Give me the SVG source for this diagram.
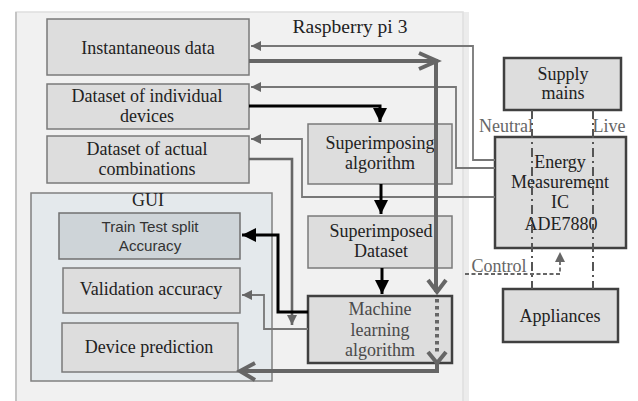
<svg xmlns="http://www.w3.org/2000/svg" width="638" height="401" viewBox="0 0 638 401">
  <style>
    .serif { font-family: "Liberation Serif", "Times New Roman", serif; fill: #222; text-anchor: middle; font-size: 18px; }
    .sans { font-family: "Liberation Sans", Arial, sans-serif; fill: #333; text-anchor: middle; font-size: 15.2px; }
    .soft { fill: #666; }
    .box { fill: #dddddd; stroke: #7a7a7a; stroke-width: 1.5; }
    .dark { fill: #dddddd; stroke: #404040; stroke-width: 2.5; }
    .thin { fill: none; stroke: #777; stroke-width: 1.8; }
    .mid { fill: none; stroke: #666; stroke-width: 2.6; }
    .black { fill: none; stroke: #000; stroke-width: 3; }
    .thick { fill: none; stroke: #666; stroke-width: 4; }
    .phase { fill: none; stroke: #555; stroke-width: 2; stroke-dasharray: 9 4 2 4; }
  </style>
  <defs>
    <marker id="arrGray" markerUnits="userSpaceOnUse" markerWidth="12" markerHeight="10" refX="10" refY="5" orient="auto">
      <path d="M0,0 L10,5 L0,10 Z" fill="#666"/>
    </marker>
    <marker id="arrBlack" markerUnits="userSpaceOnUse" markerWidth="16" markerHeight="16" refX="14" refY="8" orient="auto">
      <path d="M0,1 L14,8 L0,15 Z" fill="#000"/>
    </marker>
  </defs>

  <rect width="638" height="401" fill="#ffffff"/>

  <!-- Raspberry pi 3 enclosure -->
  <g id="raspberry-pi">
    <rect x="463" y="12" width="6" height="389" fill="#ececec"/>
    <rect x="16" y="12" width="447" height="395" fill="#f1f1f1" stroke="#dedede" stroke-width="1.5"/>
    <line x1="16" y1="12" x2="16" y2="401" stroke="#c4c4c4" stroke-width="2"/>
    <text class="serif" x="350" y="33" style="font-size:19.5px">Raspberry pi 3</text>
  </g>

  <!-- GUI panel -->
  <g id="gui">
    <rect x="31" y="193" width="241" height="188" fill="#e4e9ec" stroke="#808080" stroke-width="1.5"/>
    <text class="serif" x="148" y="206">GUI</text>
  </g>

  <g id="instantaneous-data">
    <rect class="box" x="47" y="19" width="202" height="56"/>
    <text class="serif" x="148" y="54">Instantaneous data</text>
  </g>

  <g id="dataset-individual">
    <rect class="box" x="47" y="84" width="202" height="45"/>
    <text class="serif" x="147" y="102">Dataset of individual</text>
    <text class="serif" x="147" y="122">devices</text>
  </g>

  <g id="dataset-combinations">
    <rect class="box" x="47" y="136" width="202" height="47"/>
    <text class="serif" x="147" y="155">Dataset of actual</text>
    <text class="serif" x="147" y="175">combinations</text>
  </g>

  <g id="train-test-split">
    <rect x="59" y="213" width="181" height="46" fill="#ced4d8" stroke="#707070" stroke-width="1.5"/>
    <text class="sans" x="150" y="232">Train Test split</text>
    <text class="sans" x="150" y="251">Accuracy</text>
  </g>

  <g id="validation-accuracy">
    <rect class="box" x="63" y="268" width="177" height="45"/>
    <text class="serif" x="151" y="295">Validation accuracy</text>
  </g>

  <g id="device-prediction">
    <rect class="box" x="62" y="323" width="176" height="49"/>
    <text class="serif" x="149" y="353">Device prediction</text>
  </g>

  <g id="superimposing-algorithm">
    <rect class="box" x="308" y="124" width="144" height="60"/>
    <text class="serif" x="380" y="149">Superimposing</text>
    <text class="serif" x="380" y="169">algorithm</text>
  </g>

  <g id="superimposed-dataset">
    <rect class="box" x="308" y="216" width="144" height="52"/>
    <text class="serif" x="381" y="237">Superimposed</text>
    <text class="serif" x="381" y="257">Dataset</text>
  </g>

  <g id="machine-learning">
    <rect class="dark" x="308" y="296" width="144" height="67"/>
    <text class="serif" x="380" y="315" style="fill:#4a4a4a">Machine</text>
    <text class="serif" x="380" y="336" style="fill:#4a4a4a">learning</text>
    <text class="serif" x="380" y="356" style="fill:#4a4a4a">algorithm</text>
  </g>

  <g id="supply-mains">
    <rect class="dark" x="504" y="58" width="117" height="52"/>
    <text class="serif" x="563" y="80">Supply</text>
    <text class="serif" x="563" y="99">mains</text>
  </g>

  <g id="energy-ic">
    <rect class="dark" x="495" y="137" width="131" height="111"/>
    <text class="serif" x="560" y="168">Energy</text>
    <text class="serif" x="560" y="188">Measurement</text>
    <text class="serif" x="560" y="208">IC</text>
    <text class="serif" x="561" y="230">ADE7880</text>
  </g>

  <g id="appliances">
    <rect class="dark" x="503" y="289" width="115" height="53"/>
    <text class="serif" x="560" y="322">Appliances</text>
  </g>

  <g id="connectors">
    <!-- measurement feeds from the IC -->
    <path class="thin" d="M495,160 H473 V46 H251" marker-end="url(#arrGray)"/>
    <path class="thin" d="M495,168 H456 V87 H251" marker-end="url(#arrGray)"/>
    <path class="thin" d="M495,197 H302 V139 H251" marker-end="url(#arrGray)"/>

    <!-- individual devices into superimposing algorithm -->
    <path class="black" d="M249,106 H380 V122" marker-end="url(#arrBlack)"/>
    <path class="black" d="M381,184 V214" marker-end="url(#arrBlack)"/>
    <path class="black" d="M382,268 V294" marker-end="url(#arrBlack)"/>

    <!-- actual combinations down to the ML level -->
    <path class="mid" d="M249,159 H292 V325" marker-end="url(#arrGray)"/>

    <!-- ML results to the GUI -->
    <path class="black" d="M308,312 H278 V235 H242" marker-end="url(#arrBlack)"/>
    <path class="thin" d="M308,329 H264 V295 H242" marker-end="url(#arrGray)"/>

    <!-- instantaneous data through the ML algorithm to the prediction -->
    <path class="thick" d="M249,61 H436 V292"/>
    <path class="thick" d="M419,53 L437,61 L419,69"/>
    <path class="thick" d="M428,280 L437,292 L446,280"/>
    <path class="thick" d="M437,299 V352" stroke-dasharray="3.5 3.5"/>
    <path class="thick" d="M428,352 L437,363 L446,352"/>
    <path class="thick" d="M437,363 V371 H241"/>
    <path class="thick" d="M255,363 L240,371 L255,380"/>

    <!-- neutral and live conductors -->
    <path class="phase" d="M532,110 V289"/>
    <path class="phase" d="M593,110 V289"/>
    <text class="serif soft" x="506" y="132">Neutral</text>
    <text class="serif soft" x="609" y="132">Live</text>

    <!-- control link -->
    <path d="M465,274 H560 V252" fill="none" stroke="#666" stroke-width="1.8" stroke-dasharray="4 2.5" marker-end="url(#arrGray)"/>
    <text class="serif soft" x="499" y="272">Control</text>
  </g>
</svg>
